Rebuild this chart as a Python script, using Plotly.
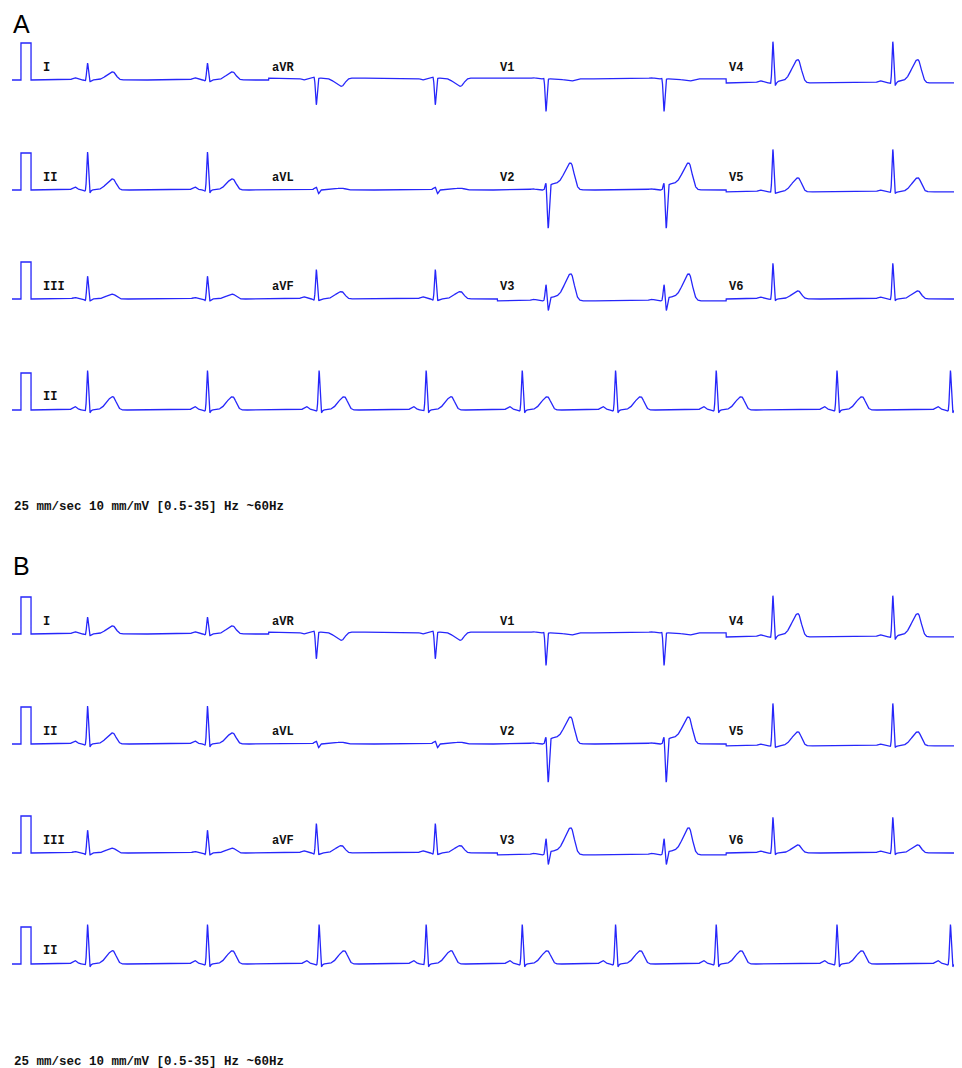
import numpy as np
import plotly.graph_objects as go

# ---------------- data ----------------
panel_names = ["A", "B"]
row_leads = [["I", "aVR", "V1", "V4"],
             ["II", "aVL", "V2", "V5"],
             ["III", "aVF", "V3", "V6"]]
rhythm_label = "II"
footer_text = "25 mm/sec 10 mm/mV [0.5-35] Hz ~60Hz"

# R-peak times (s) of the 12-lead rows and of the rhythm strip
beat_times_12 = [0.52, 1.83, 3.02, 4.32, 5.53, 6.82, 8.01, 9.32]
beat_times_rhythm = [0.52, 1.83, 3.05, 4.22, 5.27, 6.29, 7.39, 8.71, 9.95]

# per-lead wave amplitudes (mV)
lead_order = ["I", "aVR", "V1", "V4", "II", "aVL", "V2", "V5",
              "III", "aVF", "V3", "V6", "II-rhythm"]
p_amp = [0.06, -0.05, 0.03, 0.06, 0.08, 0.02, 0.03, 0.05, 0.04, 0.06, 0.04, 0.05, 0.09]
q_amp = [-0.03, 0.04, 0.03, -0.03, -0.04, 0.05, 0.00, -0.03, -0.05, -0.04, 0.00, -0.03, -0.04]
r_amp = [0.46, -0.72, -0.88, 1.12, 1.03, 0.08, 0.22, 1.15, 0.62, 0.80, 0.45, 0.97, 1.07]
s_amp = [-0.05, 0.00, 0.00, -0.08, -0.08, -0.10, -1.05, -0.05, -0.06, -0.05, -0.28, -0.05, -0.08]
st_amp = [0.0, 0.0, 0.0, 0.04, 0.0, 0.0, 0.16, 0.0, 0.0, 0.0, 0.10, 0.0, 0.0]
t_amp = [0.22, -0.22, -0.06, 0.60, 0.30, 0.05, 0.60, 0.38, 0.13, 0.20, 0.65, 0.22, 0.36]
baseline_shift = [0.0, 0.05, 0.03, -0.08, 0.0, 0.0, 0.0, -0.05, 0.0, 0.0, -0.05, 0.0, 0.0]

cal_mv = 1.0            # calibration pulse 1 mV
# ------------------------------------------------------------

# layout constants (page pixels; the page body adds an 8 px margin)
PAGE_W, PAGE_H = 962, 1068
OFF = 8
W, H = PAGE_W - OFF, PAGE_H - OFF
PX_PER_S = 91.5
PX_PER_MV = 37.0
X0_PX = 40.0 - OFF
row_base_px = {"A": [80, 190, 299, 410], "B": [634, 744, 853, 964]}
letter_y_px = {"A": 24, "B": 566}
footer_y_px = {"A": 507, "B": 1062}
LINE = "rgb(38,38,250)"
SEG = 2.5
FS = 600


def g(t, c, s):
    return np.exp(-0.5 * ((t - c) / s) ** 2)


def beat(tt, k):
    t_wave = np.where(tt < 0.275, g(tt, 0.275, 0.065), g(tt, 0.275, 0.036))
    plateau = 1.0 / (1.0 + np.exp(-(tt - 0.04) / 0.006)) / (1.0 + np.exp((tt - 0.29) / 0.014))
    return (p_amp[k] * g(tt, -0.14, 0.026) + q_amp[k] * g(tt, -0.024, 0.008)
            + r_amp[k] * g(tt, 0.0, 0.009) + s_amp[k] * g(tt, 0.024, 0.010)
            + st_amp[k] * plateau + t_amp[k] * t_wave)


def signal(t, k, beats):
    y = np.full_like(t, baseline_shift[k])
    for b in beats:
        y += beat(t - b, k)
    return y


def cal_prefix():
    xs = [-0.306, -0.208, -0.208, -0.098, -0.098, 0.0]
    ys = [0, 0, cal_mv, cal_mv, 0, 0]
    return xs, ys


fig = go.Figure()
annotations = []
lab_font = dict(family="Liberation Mono", size=12, color="#111111", weight="bold")

for panel in panel_names:
    bases = [-(p - OFF) / PX_PER_MV for p in row_base_px[panel]]
    for r in range(4):
        cx, cy = cal_prefix()
        xs = list(cx)
        ys = list(cy)
        if r < 3:
            for j, lead in enumerate(row_leads[r]):
                k = lead_order.index(lead)
                t = np.arange(SEG * j, SEG * (j + 1), 1.0 / FS)
                xs.extend(t.tolist())
                ys.extend(signal(t, k, beat_times_12).tolist())
                annotations.append(dict(x=SEG * j + 0.01, y=bases[r] + 12 / PX_PER_MV,
                                        xref="x", yref="y", text=lead, showarrow=False,
                                        xanchor="left", yanchor="middle", font=lab_font))
        else:
            k = lead_order.index("II-rhythm")
            t = np.arange(0, 10.0 + 1e-9, 1.0 / FS)
            xs.extend(t.tolist())
            ys.extend(signal(t, k, beat_times_rhythm).tolist())
            annotations.append(dict(x=0.01, y=bases[r] + 13 / PX_PER_MV,
                                    xref="x", yref="y", text=rhythm_label, showarrow=False,
                                    xanchor="left", yanchor="middle", font=lab_font))
        ys = [v + bases[r] for v in ys]
        fig.add_trace(go.Scatter(x=xs, y=ys, mode="lines",
                                 line=dict(color=LINE, width=1.3),
                                 hoverinfo="skip", showlegend=False))
    annotations.append(dict(x=(11 - OFF) / W, y=1 - (letter_y_px[panel] - OFF) / H,
                            xref="paper", yref="paper",
                            text=panel, showarrow=False, xanchor="left", yanchor="middle",
                            font=dict(family="Liberation Sans", size=25, color="#000000")))
    annotations.append(dict(x=(12 - OFF) / W, y=1 - (footer_y_px[panel] - OFF) / H,
                            xref="paper", yref="paper",
                            text=footer_text, showarrow=False, xanchor="left", yanchor="middle",
                            font=dict(family="Liberation Mono", size=12.5, color="#111111",
                                      weight="bold")))

fig.update_layout(
    width=W, height=H, autosize=False,
    margin=dict(l=0, r=0, t=0, b=0),
    paper_bgcolor="white", plot_bgcolor="white",
    xaxis=dict(range=[-X0_PX / PX_PER_S, (W - X0_PX) / PX_PER_S], visible=False, fixedrange=True),
    yaxis=dict(range=[-H / PX_PER_MV, 0], visible=False, fixedrange=True),
    annotations=annotations,
)
fig.write_html("out.html")
